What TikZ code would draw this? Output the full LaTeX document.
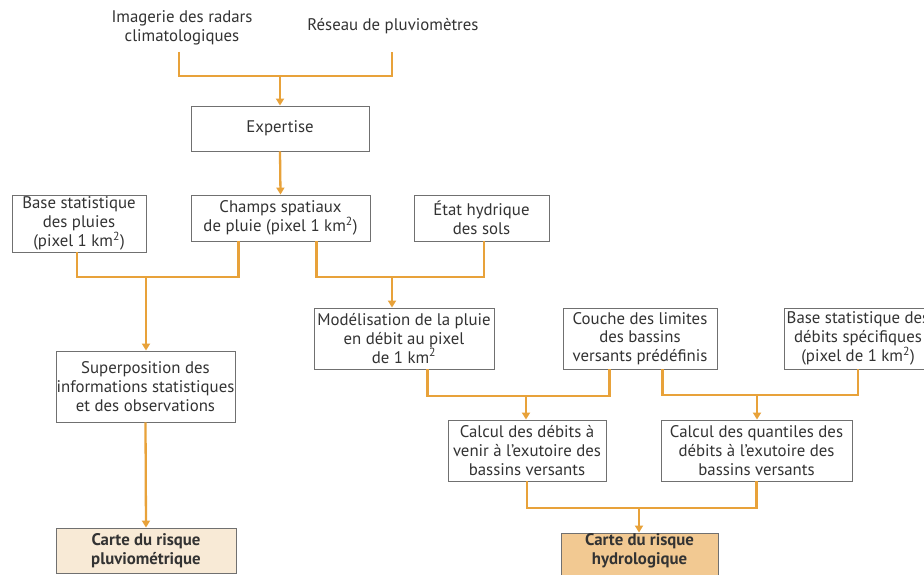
\documentclass[tikz,border=0pt]{standalone}
\usepackage{fontspec}
\setmainfont{PT Sans}
\usetikzlibrary{arrows.meta}
\definecolor{lineor}{HTML}{E8A23A}
\definecolor{boxgray}{HTML}{707070}
\definecolor{txt}{HTML}{333333}
\definecolor{pluviofill}{HTML}{F8EAD6}
\definecolor{hydrofill}{HTML}{F2C992}
\tikzset{
  box/.style={draw=boxgray, line width=0.9pt, fill=white, align=center, inner sep=0pt, text=txt, font=\fontsize{16.8}{18.8}\selectfont},
  plain/.style={align=center, inner sep=0pt, text=txt, font=\fontsize{16.8}{18.8}\selectfont},
  conn/.style={draw=lineor, line width=2.3pt},
  arr/.style={conn, -{Triangle[width=8pt,length=7pt]}},
}
\begin{document}
\begin{tikzpicture}[x=1pt,y=-1pt]
\fill[white] (0,0) rectangle (924,575);
\useasboundingbox (0,0) rectangle (924,575);
\clip (0,0) rectangle (924,575);

\node[plain] (imagerie) at (182,28) {Imagerie des radars\\climatologiques};
\node[plain] (reseau) at (393,26) {Réseau de pluviomètres};

\node[box, minimum width=178pt, minimum height=45pt] (expertise) at (280,128.5) {Expertise};
\node[box, minimum width=134pt, minimum height=57pt] (base) at (79,223.5) {Base statistique\\des pluies\\(pixel 1 km\textsuperscript{2})};
\node[box, minimum width=179pt, minimum height=46pt] (champs) at (280.5,218) {Champs spatiaux\\de pluie (pixel 1 km\textsuperscript{2})};
\node[box, minimum width=135pt, minimum height=46pt] (etat) at (481.5,218) {État hydrique\\des sols};
\node[box, minimum width=179pt, minimum height=71pt] (superp) at (145.5,386.5) {Superposition des\\informations statistiques\\et des observations};
\node[box, minimum width=180pt, minimum height=61pt] (model) at (404,338.5) {Modélisation de la pluie\\en débit au pixel\\de 1 km\textsuperscript{2}};
\node[box, minimum width=154pt, minimum height=61pt] (couche) at (640,338.5) {Couche des limites\\des bassins\\versants prédéfinis};
\node[box, minimum width=148pt, minimum height=61pt] (basedeb) at (858,338.5) {Base statistique des\\débits spécifiques\\(pixel de 1 km\textsuperscript{2})};
\node[box, minimum width=158pt, minimum height=61pt] (calcd) at (527,450.5) {Calcul des débits à\\venir à l’exutoire des\\bassins versants};
\node[box, minimum width=191pt, minimum height=61pt] (calcq) at (756.5,450.5) {Calcul des quantiles des\\débits à l’exutoire des\\bassins versants};
\node[box, fill=pluviofill, minimum width=180pt, minimum height=45pt, font=\fontsize{16.8}{18.8}\selectfont\bfseries] (cartep) at (146,550.5) {Carte du risque\\pluviométrique};
\node[box, fill=hydrofill, minimum width=157pt, minimum height=47pt, font=\fontsize{16.8}{18.8}\selectfont\bfseries] (carteh) at (639.5,556.5) {Carte du risque\\hydrologique\\[-4pt]};

\coordinate (imgend) at (179,52);
\coordinate (resend) at (392,52);
\coordinate (j1) at (280,76);
\coordinate (j2) at (146,277);
\coordinate (j3) at (392,277);
\coordinate (j4) at (526,396);
\coordinate (j5) at (757,395);
\coordinate (j6) at (639,508);

\draw[conn] (imgend) |- (j1) -| (resend);
\draw[arr] (j1) -- (expertise.north);
\draw[arr] (expertise.south) -- (champs.north);

\draw[conn] ([xshift=-2pt]base.south) |- (j2) -| ([xshift=48pt]champs.south west);
\draw[arr] (j2) -- (j2 |- superp.north);
\draw[conn] ([xshift=-54pt]champs.south east) |- (j3) -| ([xshift=2.5pt]etat.south);
\draw[arr] (j3) -- (j3 |- model.north);
\draw[arr] (superp.south) -- (cartep.north);

\draw[conn] ([xshift=114pt]model.south west) |- (j4) -| ([xshift=47pt]couche.south west);
\draw[arr] (j4) -- (j4 |- calcd.north);
\draw[conn] ([xshift=100pt]couche.south west) |- (j5) -| (basedeb.south);
\draw[arr] (j5) -- (j5 |- calcq.north);
\draw[conn] (calcd.south) |- (j6) -| (calcq.south);
\draw[arr] (j6) -- (j6 |- carteh.north);
\end{tikzpicture}
\end{document}
